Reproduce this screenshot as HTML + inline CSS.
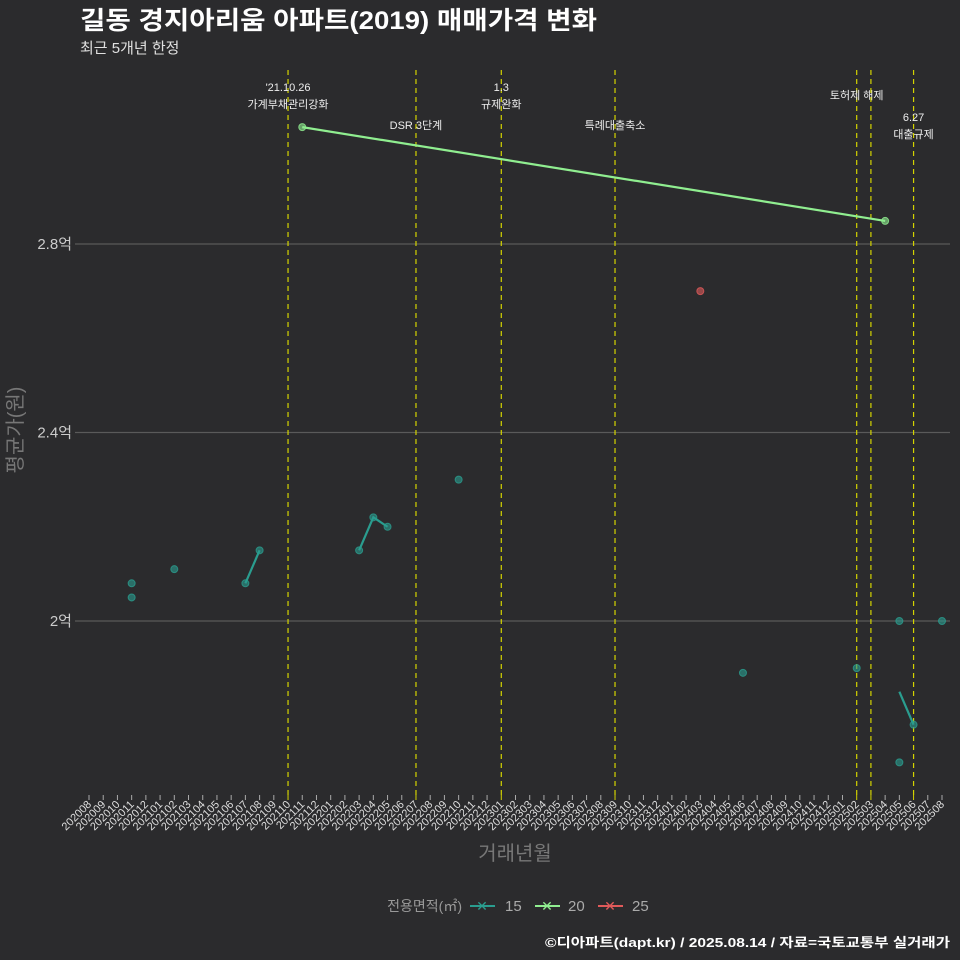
<!DOCTYPE html>
<html><head><meta charset="utf-8">
<style>
body{margin:0;background:#2b2b2d;}
svg{display:block;font-family:"Liberation Sans","Noto Sans CJK KR",sans-serif;}
</style></head>
<body>
<svg id="chart" width="960" height="960" viewBox="0 0 960 960">
<rect width="960" height="960" fill="#2b2b2d"/>
<text x="80" y="29" fill="#ffffff" font-size="25" font-weight="bold" textLength="517" lengthAdjust="spacingAndGlyphs">길동 경지아리움 아파트(2019) 매매가격 변화</text>
<text x="80" y="53" fill="#e0e0e0" font-size="15">최근 5개년 한정</text>
<text transform="translate(22,430) rotate(-90)" text-anchor="middle" fill="#777" font-size="20">평균가(원)</text>
<text x="515" y="860" text-anchor="middle" fill="#777" font-size="20">거래년월</text>
<g id="grid"></g><g id="events"></g><g id="marks"></g><g id="xaxis"></g>
<g>
<text x="462" y="911" text-anchor="end" fill="#999" font-size="14">전용면적(㎡)</text>
<g><line x1="470" y1="906" x2="495" y2="906" stroke="#2a9d8f" stroke-width="2"/><text x="482" y="911" text-anchor="middle" fill="#2a9d8f" font-size="14">✕</text><text x="505" y="911" fill="#aaa" font-size="15">15</text></g>
<g><line x1="535" y1="906" x2="560" y2="906" stroke="#90ee90" stroke-width="2"/><text x="547" y="911" text-anchor="middle" fill="#90ee90" font-size="14">✕</text><text x="568" y="911" fill="#aaa" font-size="15">20</text></g>
<g><line x1="598" y1="906" x2="623" y2="906" stroke="#e05a5a" stroke-width="2"/><text x="610" y="911" text-anchor="middle" fill="#e05a5a" font-size="14">✕</text><text x="632" y="911" fill="#aaa" font-size="15">25</text></g>
</g>
<text x="950" y="947" text-anchor="end" fill="#ffffff" font-size="13" font-weight="bold" textLength="405" lengthAdjust="spacingAndGlyphs">©디아파트(dapt.kr) / 2025.08.14 / 자료=국토교통부 실거래가</text>
</svg>
<script>
const months=[];for(let y=2020,m=8;!(y===2025&&m===9);){months.push(''+y+(m<10?'0':'')+m);m++;if(m>12){m=1;y++;}}
const yTicks=[2.0,2.4,2.8];
const yTickLabels=['2억','2.4억','2.8억'];
const line15a=[['202107',2.08],['202108',2.15]];
const line15b=[['202203',2.15],['202204',2.22],['202205',2.20]];
const line15c=[['202505',1.85],['202506',1.78]];
const pts15=[['202011',2.08],['202011',2.05],['202102',2.11],['202210',2.30],['202406',1.89],['202502',1.90],['202505',2.00],['202505',1.70],['202508',2.00]];
const line20=[['202111',3.048],['202504',2.849]];
const pts25=[['202403',2.70]];
const eventMonths=['202110','202207','202301','202309','202502','202503','202506'];
const eventLabels=[["'21.10.26","가계부채관리강화"],["DSR 3단계"],["1.3","규제완화"],["특례대출축소"],["토허제 해제"],[],["6.27","대출규제"]];
const eventLabelY=[91,129,91,129,99,0,121];
const NS='http://www.w3.org/2000/svg';
const xs=m=>89+months.indexOf(m)*(942-89)/(months.length-1);
const ys=v=>621-(v-2)*471.25;
function mk(tag,attrs,parent){const e=document.createElementNS(NS,tag);for(const k in attrs)e.setAttribute(k,attrs[k]);document.getElementById(parent).appendChild(e);return e;}
yTicks.forEach((v,i)=>{
 const l=mk('line',{x1:75,x2:950,y1:ys(v),y2:ys(v),stroke:'#5a5a5a','stroke-width':1.2},'grid');
 
 
 const t=mk('text',{x:72,y:ys(v)+5,'text-anchor':'end',fill:'#ccc','font-size':15},'grid');
 t.textContent=yTickLabels[i];
 
 
});
months.forEach(m=>{
 const x=xs(m);const ev=eventMonths.includes(m);
 const tk=mk('line',{x1:x,x2:x,y1:795,y2:800,stroke:ev?'#d4d400':'#aaa','stroke-width':1},'xaxis');
 
 
 const t=mk('text',{transform:`translate(${x+3},${805}) rotate(-45)`,'text-anchor':'end',fill:'#ddd','font-size':11},'xaxis');
 t.textContent=m;
 
 
});
eventMonths.forEach((m,i)=>{
 const x=xs(m);
 const l=mk('line',{x1:x,x2:x,y1:70,y2:795,stroke:'#d4d400','stroke-width':1.2,'stroke-dasharray':'5,4'},'events');
 
 
 eventLabels[i].forEach((s,j)=>{
  const t=mk('text',{x:x,y:eventLabelY[i]+j*17,'text-anchor':'middle',fill:'#eee','font-size':11},'events');
  t.textContent=s;
  
  
 });
});
function drawLine(data,color,name,skipFirstMarker){
 const p=mk('polyline',{points:data.map(d=>xs(d[0])+','+ys(d[1])).join(' '),fill:'none',stroke:color,'stroke-width':2.2},'marks');
 
 
 drawPts(skipFirstMarker?data.slice(1):data,color,name+'-point');
}
function drawPts(data,color,name){
 data.forEach(d=>{
  const c=mk('circle',{cx:xs(d[0]),cy:ys(d[1]),r:3.5,fill:color,'fill-opacity':0.6,stroke:color,'stroke-opacity':0.8},'marks');
  
  
 });
}
drawLine(line15a,'#2a9d8f','line-15');
drawLine(line15b,'#2a9d8f','line-15');
drawLine(line15c,'#2a9d8f','line-15',true);
drawPts(pts15,'#2a9d8f','point-15');
drawLine(line20,'#90ee90','line-20');
drawPts(pts25,'#e05a5a','point-25');
</script>
</body></html>
